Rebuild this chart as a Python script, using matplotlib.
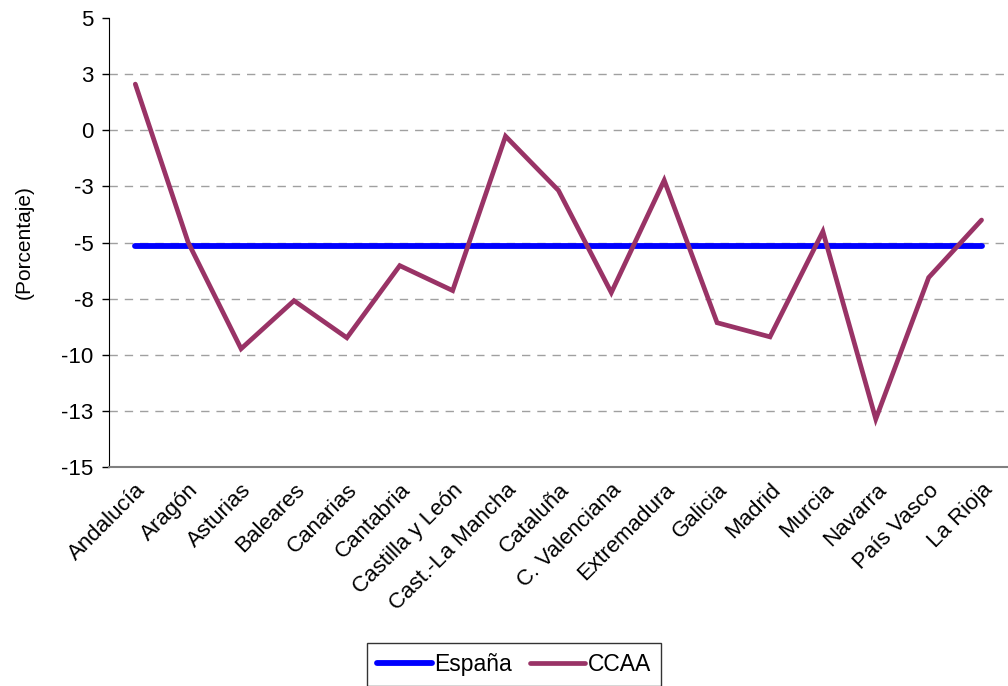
import matplotlib
matplotlib.use("Agg")
import matplotlib.pyplot as plt

# =========================
# DATA
# =========================

regions = ["Andalucía", "Aragón", "Asturias", "Baleares", "Canarias", "Cantabria",
           "Castilla y León", "Cast.-La Mancha", "Cataluña", "C. Valenciana",
           "Extremadura", "Galicia", "Madrid", "Murcia", "Navarra", "País Vasco",
           "La Rioja"]
ccaa = [2.05, -5.0, -9.73, -7.59, -9.24, -6.03, -7.14, -0.27, -2.68, -7.23,
        -2.23, -8.57, -9.2, -4.51, -12.86, -6.56, -4.0]
espana_value = -5.16

y_ticks = [5, 2.5, 0, -2.5, -5, -7.5, -10, -12.5, -15]
y_tick_labels = ["5", "3", "0", "-3", "-5", "-8", "-10", "-13", "-15"]

# =========================
# PLOTTING
# =========================

plt.rcParams["font.family"] = ["Liberation Sans", "DejaVu Sans"]

fig = plt.figure(figsize=(10.08, 6.86), dpi=100)
ax = fig.add_axes([0.108, 0.319, 0.892, 0.655])

x = list(range(len(regions)))
ax.plot(x, [espana_value] * len(x), color="#0000ff", lw=4.2,
        solid_capstyle="round", label="España", zorder=3)
ax.plot(x, ccaa, color="#993366", lw=3.4, solid_capstyle="round",
        solid_joinstyle="miter", label="CCAA", zorder=4)

ax.set_xlim(-0.5, 16.5)
ax.set_ylim(-15, 5)
ax.set_yticks(y_ticks)
ax.set_yticklabels(y_tick_labels, fontsize=16)
ax.set_xticks(x)
ax.set_xticklabels(regions, rotation=45, ha="right", rotation_mode="anchor",
                   fontsize=16)
ax.tick_params(axis="x", length=0, pad=9)
ax.tick_params(axis="y", length=5, width=1, pad=6)

for v in y_ticks[1:-1]:
    ax.axhline(v, color="#a0a0a0", lw=1, ls=(0, (6, 5)), zorder=1)

ax.spines["top"].set_visible(False)
ax.spines["right"].set_visible(False)
ax.spines["left"].set_color("black")
ax.spines["bottom"].set_color("#808080")
ax.spines["bottom"].set_linewidth(1.5)

ax.set_ylabel("(Porcentaje)", fontsize=15, labelpad=20)

leg = fig.legend(loc="upper center", bbox_to_anchor=(0.5100, 0.063), ncol=2,
                 frameon=True, fancybox=False, fontsize=16.5, handlelength=2.4,
                 handletextpad=0.1, columnspacing=0.8, borderpad=0.45,
                 borderaxespad=0)
leg.get_frame().set_edgecolor("black")
leg.get_frame().set_linewidth(1)

fig.savefig("out.png", dpi=100)
plt.close(fig)
